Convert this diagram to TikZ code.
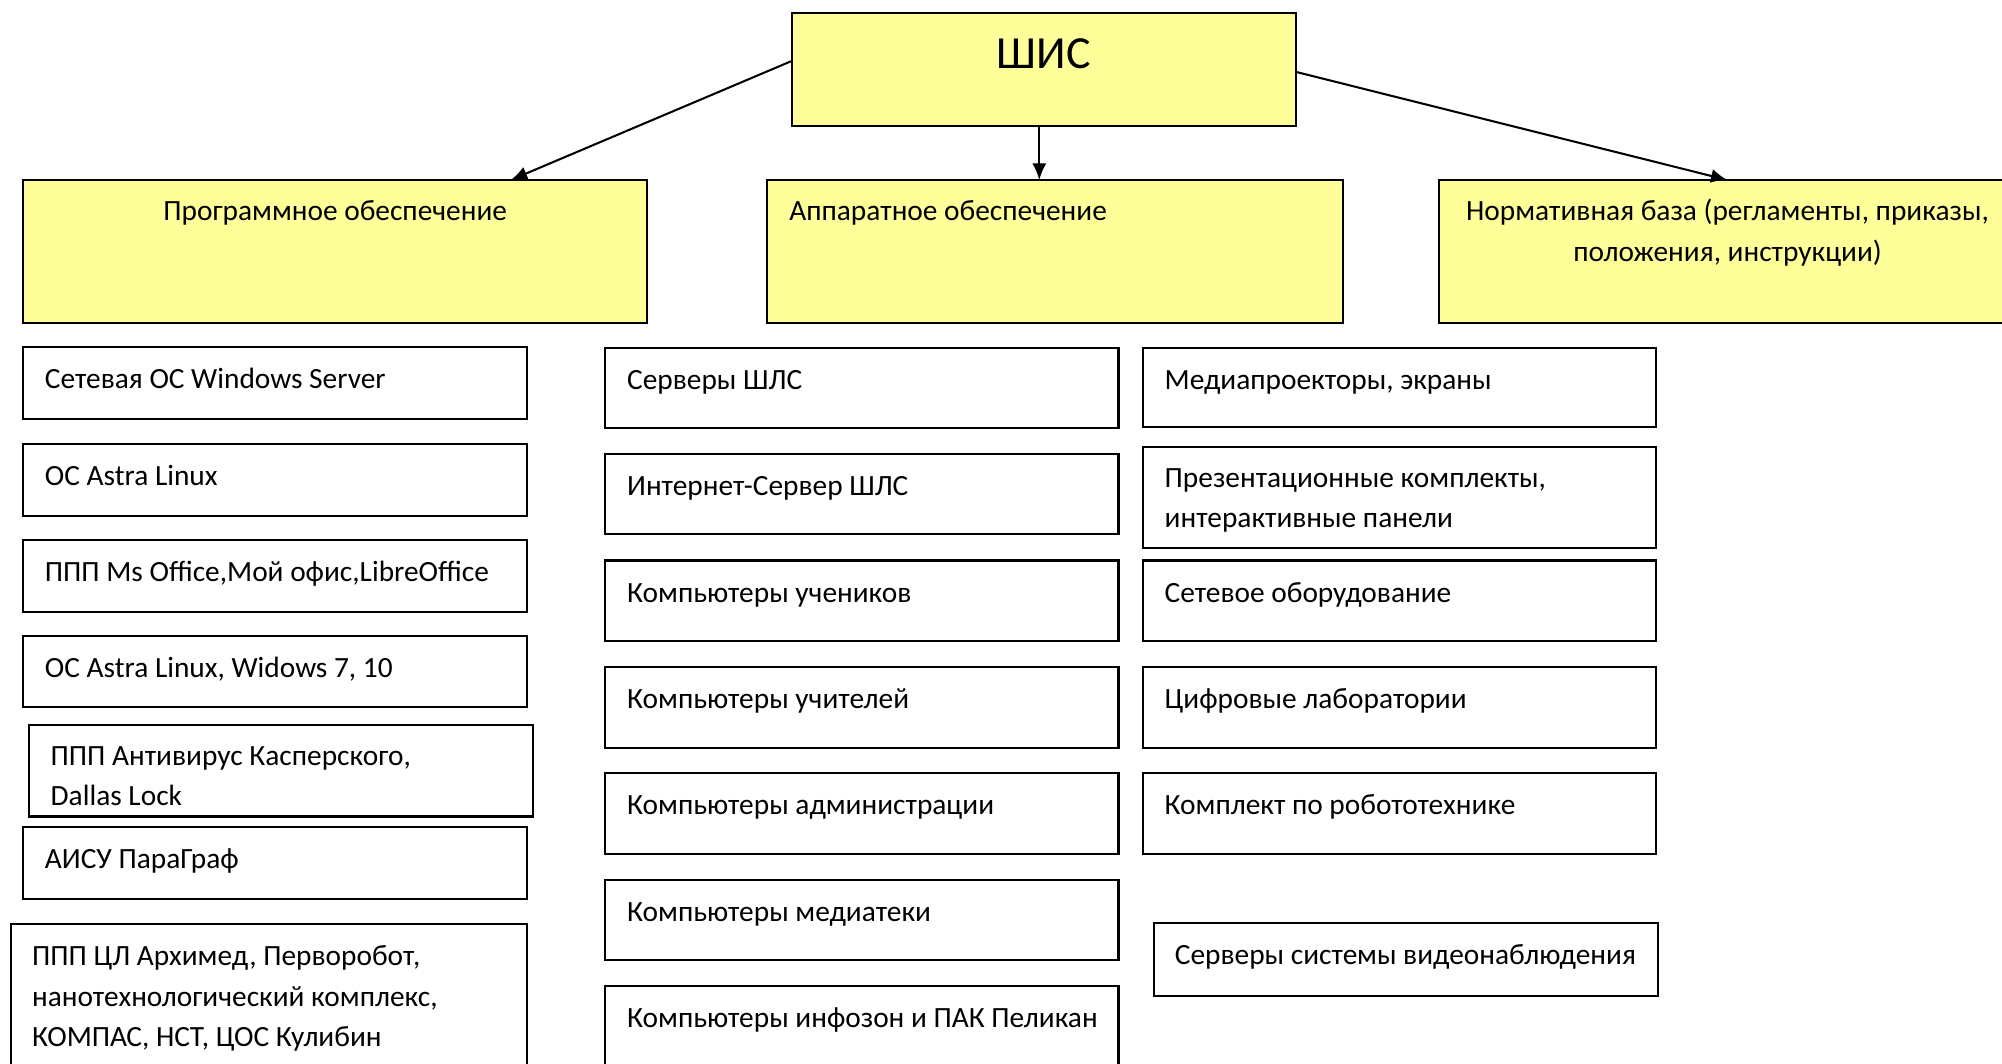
\documentclass[tikz,border=0pt]{standalone}
\usepackage{fontspec}
\setmainfont{Carlito}
\usetikzlibrary{arrows.meta,calc}
\definecolor{boxyellow}{HTML}{FFFF99}
\tikzset{
  box/.style={draw=black, line width=1.6pt, fill=white, rectangle, inner sep=0pt, outer sep=0pt, anchor=north west},
  ybox/.style={box, fill=boxyellow},
  txt/.style={anchor=base west, inner sep=0pt, align=left, font=\fontsize{23}{31.5}\selectfont},
  ctxt/.style={anchor=base, inner sep=0pt, align=center, font=\fontsize{23}{31.5}\selectfont},
  arr/.style={draw=black, line width=1.6pt, -{Latex[length=13pt,width=11pt]}}
}
\begin{document}
\begin{tikzpicture}[x=1pt,y=-1pt]
\useasboundingbox (0,0) rectangle (1568,833);
\clip (0,0) rectangle (1568,833);
\fill[white] (0,0) rectangle (1568,833);
% top
\node[ybox, minimum width=395pt, minimum height=89pt] (shis) at (620,10) {};
\node[anchor=base, inner sep=0pt, font=\fontsize{36}{40}\selectfont] (shist) at (817.5,54) {ШИС};
% second row
\node[ybox, minimum width=489pt, minimum height=112pt] (prog) at (18,141) {};
\node[ctxt] (progt) at ($(prog.north)+(0,32)$) {Программное обеспечение};
\node[ybox, minimum width=451pt, minimum height=112pt] (app) at (601,141) {};
\node[txt] (appt) at ($(app.north west)+(17,32)$) {Аппаратное обеспечение};
\node[ybox, minimum width=452pt, minimum height=112pt] (norm) at (1127,141) {};
\node[ctxt] (normt) at ($(norm.north)+(0,63.5)$) {Нормативная база (регламенты, приказы,\\положения, инструкции)};
% arrows
\draw[arr] ([yshift=6.7pt]shis.west) -- ([xshift=137.5pt]prog.north);
\draw[arr] ([xshift=-3.5pt]shis.south) -- ([xshift=-3.5pt]shis.south |- app.north);
\draw[arr] ([yshift=-1.8pt]shis.east) -- (norm.north);
% left column
\node[box, minimum width=395pt, minimum height=56pt] (l1) at (18,272) {};
\node[txt] at ($(l1.north west)+(17,32.5)$) {Сетевая ОС Windows Server};
\node[box, minimum width=395pt, minimum height=56pt] (l2) at (18,348) {};
\node[txt] at ($(l2.north west)+(17,32.5)$) {ОС Astra Linux};
\node[box, minimum width=395pt, minimum height=56pt] (l3) at (18,423) {};
\node[txt] at ($(l3.north west)+(17,32.5)$) {ППП Ms Office,Мой офис,LibreOffice};
\node[box, minimum width=395pt, minimum height=56pt] (l4) at (18,498) {};
\node[txt] at ($(l4.north west)+(17,32.5)$) {ОС Astra Linux, Widows 7, 10};
\node[box, minimum width=395pt, minimum height=71.5pt] (l5) at (22.5,568) {};
\node[txt] at ($(l5.north west)+(17,63)$) {ППП Антивирус Касперского,\\Dallas Lock};
\node[box, minimum width=395pt, minimum height=56pt] (l6) at (18,648) {};
\node[txt] at ($(l6.north west)+(17,32.5)$) {АИСУ ПараГраф};
\node[box, minimum width=404.5pt, minimum height=140pt] (l7) at (8.5,723.5) {};
\node[txt] at ($(l7.north west)+(16.5,96)$) {ППП ЦЛ Архимед, Перворобот,\\нанотехнологический комплекс,\\КОМПАС, НСТ, ЦОС Кулибин};
% middle column
\node[box, minimum width=402pt, minimum height=63pt] (m1) at (474,272.5) {};
\node[txt] at ($(m1.north west)+(17,32.5)$) {Серверы ШЛС};
\node[box, minimum width=402pt, minimum height=63pt] (m2) at (474,355.5) {};
\node[txt] at ($(m2.north west)+(17,32.5)$) {Интернет-Сервер ШЛС};
\node[box, minimum width=402pt, minimum height=63pt] (m3) at (474,439) {};
\node[txt] at ($(m3.north west)+(17,32.5)$) {Компьютеры учеников};
\node[box, minimum width=402pt, minimum height=63pt] (m4) at (474,522.5) {};
\node[txt] at ($(m4.north west)+(17,32.5)$) {Компьютеры учителей};
\node[box, minimum width=402pt, minimum height=63pt] (m5) at (474,605.5) {};
\node[txt] at ($(m5.north west)+(17,32.5)$) {Компьютеры администрации};
\node[box, minimum width=402pt, minimum height=63pt] (m6) at (474,689) {};
\node[txt] at ($(m6.north west)+(17,32.5)$) {Компьютеры медиатеки};
\node[box, minimum width=402pt, minimum height=80pt] (m7) at (474,772.5) {};
\node[txt] at ($(m7.north west)+(17,32.5)$) {Компьютеры инфозон и ПАК Пеликан};
% right column
\node[box, minimum width=402pt, minimum height=62pt] (r1) at (895,272.5) {};
\node[txt] at ($(r1.north west)+(17,32.5)$) {Медиапроекторы, экраны};
\node[box, minimum width=402pt, minimum height=79pt] (r2) at (895,350) {};
\node[txt] at ($(r2.north west)+(17,63)$) {Презентационные комплекты,\\интерактивные панели};
\node[box, minimum width=402pt, minimum height=63pt] (r3) at (895,439) {};
\node[txt] at ($(r3.north west)+(17,32.5)$) {Сетевое оборудование};
\node[box, minimum width=402pt, minimum height=63pt] (r4) at (895,522.5) {};
\node[txt] at ($(r4.north west)+(17,32.5)$) {Цифровые лаборатории};
\node[box, minimum width=402pt, minimum height=63pt] (r5) at (895,605.5) {};
\node[txt] at ($(r5.north west)+(17,32.5)$) {Комплект по робототехнике};
\node[box, minimum width=395pt, minimum height=57pt] (r6) at (903.5,723) {};
\node[txt] at ($(r6.north west)+(16.5,32.5)$) {Серверы системы видеонаблюдения};
\end{tikzpicture}
\end{document}
